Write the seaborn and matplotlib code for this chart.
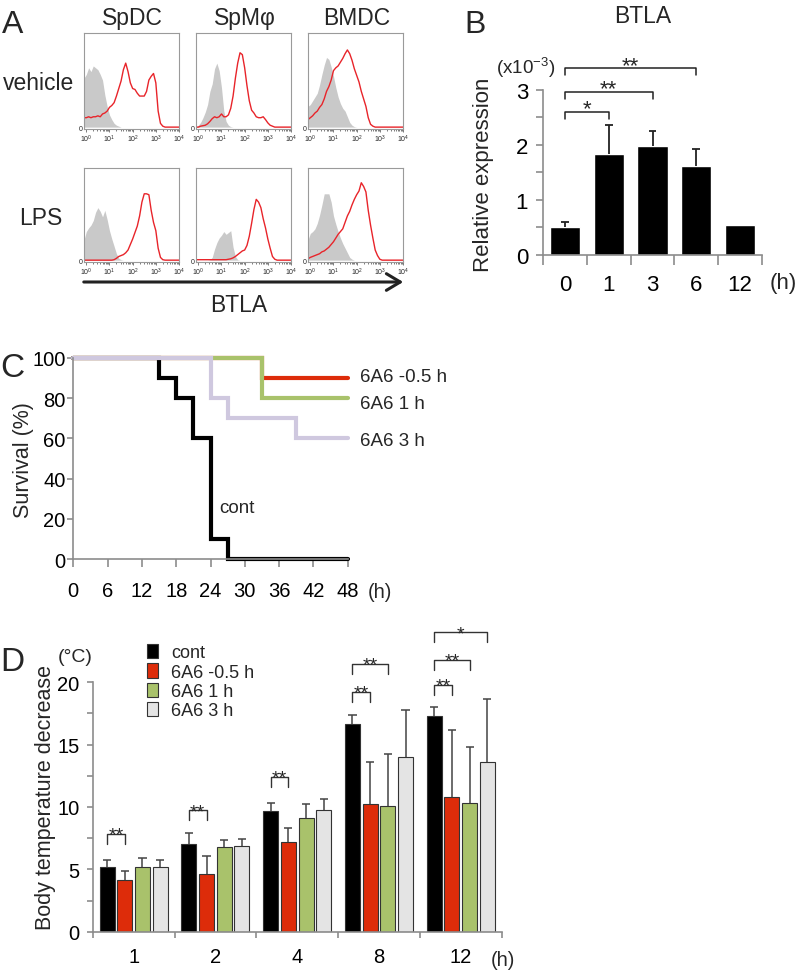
import numpy as np
import pandas as pd
import matplotlib
matplotlib.use('Agg')
import matplotlib.pyplot as plt
import seaborn as sns
from matplotlib import font_manager
from matplotlib.patches import Patch, FancyArrowPatch

sns.set_style('ticks')
_names = {f.name for f in font_manager.fontManager.ttflist}
NARROW = 'Liberation Sans Narrow' if 'Liberation Sans Narrow' in _names else 'Liberation Sans'
NSIZE = 14 if NARROW == 'Liberation Sans Narrow' else 12.5
plt.rcParams['font.family'] = ['Liberation Sans', 'DejaVu Sans']
plt.rcParams['mathtext.fontset'] = 'custom'
plt.rcParams['mathtext.rm'] = 'Liberation Sans'

# %%
# ---------------- data ----------------
# A: flow histograms, % of max, on a log10 grid
hist_x = [-0.1, 0.0, 0.1, 0.2, 0.3, 0.4, 0.5, 0.6, 0.7, 0.8, 0.9, 1.0, 1.1, 1.2,
          1.3, 1.4, 1.5, 1.6, 1.7, 1.8, 1.9, 2.0, 2.1, 2.2, 2.3, 2.4, 2.5, 2.6, 2.7,
          2.8, 2.9, 3.0, 3.1, 3.2, 3.3, 3.4, 3.5, 3.6, 3.7, 3.8, 3.9, 4.0]
cell_types = ['SpDC', 'SpM\u03c6', 'BMDC']
treatments = ['vehicle', 'LPS']

spdc_veh_iso = [52, 56, 63, 59, 65, 63, 61, 56, 50, 34, 22, 13, 8, 4, 2, 1,
                0, 0, 0, 0, 0, 0, 0, 0, 0, 0, 0, 0, 0, 0, 0, 0, 0, 0, 0, 0, 0, 0, 0, 0, 0, 0]
spdc_veh_btla = [10, 10, 11, 10, 11, 11, 12, 11, 14, 15, 17, 21, 23, 26, 33, 41, 49, 61, 68, 59,
                 47, 41, 40, 36, 33, 33, 33, 38, 50, 54, 57, 47, 17, 4, 1, 0, 0, 0, 0, 0, 0, 0]
spm_veh_iso = [0, 2, 5, 10, 16, 24, 38, 46, 62, 68, 60, 42, 17, 6, 2, 0.5,
               0, 0, 0, 0, 0, 0, 0, 0, 0, 0, 0, 0, 0, 0, 0, 0, 0, 0, 0, 0, 0, 0, 0, 0, 0, 0]
spm_veh_btla = [0, 0, 1, 1.5, 2, 3.5, 6, 9, 11, 10, 11, 14, 11, 11, 13, 20, 33, 52, 68, 79,
                77, 63, 44, 28, 18, 15, 11, 10, 10, 11, 8, 4.5, 2, 1, 0, 0, 0, 0, 0, 0, 0, 0]
bmdc_veh_iso = [22, 24, 28, 32, 36, 45, 56, 66, 74, 72, 64, 54, 42, 32, 25, 20, 17, 11, 5, 2,
                0.5, 0, 0, 0, 0, 0, 0, 0, 0, 0, 0, 0, 0, 0, 0, 0, 0, 0, 0, 0, 0, 0]
bmdc_veh_btla = [8, 10, 12, 15, 17, 21, 24, 30, 38, 43, 50, 60, 63, 65, 69, 73, 78, 82, 78, 71,
                 62, 55, 48, 38, 30, 22, 10, 3, 1, 0, 0, 0, 0, 0, 0, 0, 0, 0, 0, 0, 0, 0]
spdc_lps_iso = [22, 31, 35, 38, 43, 52, 57, 53, 47, 54, 44, 32, 23, 15, 7, 2, 0.5,
                0, 0, 0, 0, 0, 0, 0, 0, 0, 0, 0, 0, 0, 0, 0, 0, 0, 0, 0, 0, 0, 0, 0, 0, 0]
spdc_lps_btla = [0, 0, 0, 0, 0, 0, 0, 0, 0, 0, 0, 0, 0, 0.5, 2, 4, 5, 6, 8, 11,
                 17, 23, 30, 37, 48, 63, 72, 72, 71, 54, 41, 32, 13, 3, 0.5, 0, 0, 0, 0, 0, 0, 0]
spm_lps_iso = [0, 0, 0, 0, 0, 0, 0.5, 3, 12, 19, 24, 27, 31, 28, 30, 32, 14, 4, 0.5,
               0, 0, 0, 0, 0, 0, 0, 0, 0, 0, 0, 0, 0, 0, 0, 0, 0, 0, 0, 0, 0, 0, 0]
spm_lps_btla = [0.5, 0.5, 0.5, 0.5, 0.5, 0.5, 0.5, 0.5, 0.5, 0.5, 0.5, 0.5, 0.5, 0.5, 1, 1.5, 2.5, 4, 6, 8,
                10, 11, 16, 26, 40, 55, 66, 63, 57, 45, 35, 23, 13, 4, 1, 0, 0, 0, 0, 0, 0, 0]
bmdc_lps_iso = [22, 29, 31, 34, 40, 49, 60, 72, 72, 72, 63, 48, 39, 31, 24, 18, 13, 8, 3, 1,
                0, 0, 0, 0, 0, 0, 0, 0, 0, 0, 0, 0, 0, 0, 0, 0, 0, 0, 0, 0, 0, 0]
bmdc_lps_btla = [1.5, 3, 4, 5, 6, 7, 9, 10, 12, 14, 17, 20, 24, 28, 31, 34, 41, 48, 53, 60,
                 66, 71, 75, 84, 80, 74, 54, 38, 24, 11, 5, 1, 0, 0, 0, 0, 0, 0, 0, 0, 0, 0]
# events piled up in the lowest channel
edge_peak = [95, 0, 65, 0, 0, 0]

# B: BTLA relative expression (x10^-3)
b_times = ['0', '1', '3', '6', '12']
b_mean = [0.50, 1.84, 1.97, 1.61, 0.55]
b_err = [0.10, 0.52, 0.28, 0.31, 0.0]
b_sig_to = ['1', '3', '6']
b_sig_y = [2.60, 2.96, 3.39]
b_sig_lab = ['*', '**', '**']

# C: survival (%)
cont_time = [0, 15, 18, 21, 24, 27, 48]
cont_surv = [100, 90, 80, 60, 10, 0, 0]
early_time = [0, 33, 48]
early_surv = [100, 90, 90]
h1_time = [0, 33, 48]
h1_surv = [100, 80, 80]
h3_time = [0, 24, 27, 39, 48]
h3_surv = [100, 80, 70, 60, 60]

# D: body temperature decrease
d_times = ['1', '2', '4', '8', '12']
d_groups = ['cont', '6A6 -0.5 h', '6A6 1 h', '6A6 3 h']
d_cont = [5.19, 7.06, 9.71, 16.66, 17.33]
d_cont_err = [0.59, 0.88, 0.61, 0.75, 0.72]
d_early = [4.12, 4.65, 7.17, 10.27, 10.83]
d_early_err = [0.77, 1.39, 1.12, 3.31, 5.37]
d_1h = [5.16, 6.76, 9.12, 10.05, 10.32]
d_1h_err = [0.72, 0.57, 1.12, 4.17, 4.52]
d_3h = [5.16, 6.87, 9.79, 14.01, 13.58]
d_3h_err = [0.62, 0.54, 0.85, 3.80, 5.08]
d_sig_time = ['1', '2', '4', '8', '8', '12', '12', '12']
d_sig_to = ['6A6 -0.5 h', '6A6 -0.5 h', '6A6 -0.5 h', '6A6 -0.5 h', '6A6 1 h',
            '6A6 -0.5 h', '6A6 1 h', '6A6 3 h']
d_sig_y = [7.83, 9.73, 12.38, 19.2, 21.47, 19.79, 21.79, 24.0]
d_sig_lab = ['**', '**', '**', '**', '**', '**', '**', '*']

# colours
RED = '#dd2c0a'
GREEN = '#a9c26b'
LAV = '#cfc8df'
LGREY = '#e4e4e4'
AXC = '#8c8c8c'

# %%
W, H = 799, 978
fig = plt.figure(figsize=(W / 100, H / 100), dpi=100)


def px_axes(l, t, r, b):
    return fig.add_axes([l / W, 1 - b / H, (r - l) / W, (b - t) / H])


def ftext(x, y, s, **kw):
    fig.text(x / W, 1 - y / H, s, **kw)


def style_axes(ax):
    for s in ['top', 'right']:
        ax.spines[s].set_visible(False)
    for s in ['left', 'bottom']:
        ax.spines[s].set_color(AXC)
        ax.spines[s].set_linewidth(1.2)
    ax.tick_params(which='both', color=AXC, width=1.2, direction='out', labelcolor='black')


# ---------------- A ----------------
hist_iso = [spdc_veh_iso, spm_veh_iso, bmdc_veh_iso, spdc_lps_iso, spm_lps_iso, bmdc_lps_iso]
hist_btla = [spdc_veh_btla, spm_veh_btla, bmdc_veh_btla, spdc_lps_btla, spm_lps_btla, bmdc_lps_btla]
rows = [(34, 130), (169, 263)]
cols = [(84, 179), (196, 291), (308, 403)]
minor_x = [d + np.log10(k) for d in range(4) for k in range(2, 10)]
for i in range(6):
    r, c = divmod(i, 3)
    ax = px_axes(cols[c][0], rows[r][0], cols[c][1], rows[r][1])
    ax.fill_between(hist_x, hist_iso[i], color='#c9c9c9', lw=0)
    sns.lineplot(x=hist_x, y=hist_btla[i], color='#e8242a', lw=1.0, ax=ax)
    if edge_peak[i]:
        ax.vlines(hist_x[0], 0, edge_peak[i], color='#e8242a', lw=1.4)
    ax.set_xlim(-0.1, 4.0)
    ax.set_ylim(-2, 100)
    ax.set_xticks(range(5))
    ax.set_xticklabels([r'$\mathregular{10^{%d}}$' % k for k in range(5)], fontsize=5)
    ax.set_xticks(minor_x, minor=True)
    ax.set_yticks([0])
    ax.set_yticklabels(['0'], fontsize=5)
    for s in ax.spines.values():
        s.set_color('#9a9a9a')
        s.set_linewidth(0.8)
    ax.tick_params(which='both', direction='out', color='#666666', width=0.6, pad=1)
    ax.tick_params(which='major', length=2)
    ax.tick_params(which='minor', length=1.2)
    ax.tick_params(axis='y', length=0)
    ax.set_xlabel('')
    ax.set_ylabel('')

for (l, rr), name in zip(cols, cell_types):
    ftext((l + rr) / 2 + 1, 25, name, fontsize=16.5, ha='center', va='baseline')
ftext(39, 90, 'vehicle', fontsize=16.5, ha='center', va='baseline')
ftext(41, 225, 'LPS', fontsize=16.5, ha='center', va='baseline')
ftext(239, 312, 'BTLA', fontsize=16.5, ha='center', va='baseline')
ftext(13, 33, 'A', fontsize=23, ha='center', va='baseline')
arrow = FancyArrowPatch((81 / W, 1 - 283 / H), (406 / W, 1 - 283 / H), transform=fig.transFigure,
                        arrowstyle='->,head_length=0.5,head_width=0.3', mutation_scale=20,
                        lw=2.2, color='#222222')
fig.add_artist(arrow)

# ---------------- B ----------------
axb = px_axes(543.3, 90.7, 761.7, 256)
b_df = pd.DataFrame({'time': b_times, 'expr': b_mean})
sns.barplot(data=b_df, x='time', y='expr', order=b_times, color='black', saturation=1,
            width=0.69, errorbar=None, ax=axb)
b_x = [p.get_x() + p.get_width() / 2 for p in axb.patches]
for x, m, e in zip(b_x, b_mean, b_err):
    if e > 0:
        axb.vlines(x, m, m + e, color='#222222', lw=1.3)
        axb.hlines(m + e, x - 0.09, x + 0.09, color='#222222', lw=1.3)
for to, y, lab in zip(b_sig_to, b_sig_y, b_sig_lab):
    x0 = b_x[0]
    x1 = b_x[b_times.index(to)]
    axb.plot([x0, x0, x1, x1], [y - 0.13, y, y, y - 0.13], color='#222222', lw=1.1, clip_on=False)
    axb.text((x0 + x1) / 2, y - 0.045, lab, fontsize=16, ha='center', va='baseline')
axb.set_xlim(-0.5, 4.5)
axb.set_ylim(0, 3)
style_axes(axb)
axb.set_yticks([0, 1, 2, 3])
axb.set_yticks([0.5, 1.5, 2.5], minor=True)
axb.set_xticks([-0.5, 0.5, 1.5, 2.5, 3.5, 4.5], minor=True)
axb.tick_params(axis='y', which='both', length=5, labelsize=16, pad=6)
axb.tick_params(axis='x', which='major', length=0, labelsize=16, pad=14)
axb.tick_params(axis='x', which='minor', length=7)
axb.set_xlabel('')
axb.set_ylabel('')
ftext(483, 175, 'Relative expression', fontsize=16, rotation=90, ha='center', va='center')
ftext(496, 68, r'(x10$^{\mathregular{-3}}$)', fontsize=13.5, ha='left', va='center')
ftext(783, 284, '(h)', fontsize=16, ha='center', va='center')
ftext(642.7, 23.3, 'BTLA', fontsize=16.5, ha='center', va='baseline')
ftext(475, 33.3, 'B', fontsize=23, ha='center', va='baseline')

# ---------------- C ----------------
axc = px_axes(73.3, 359, 347.7, 560)
c_order = ['6A6 -0.5 h', '6A6 1 h', 'cont', '6A6 3 h']
c_colors = {'cont': 'black', '6A6 -0.5 h': RED, '6A6 1 h': GREEN, '6A6 3 h': LAV}
c_df = pd.concat([
    pd.DataFrame({'group': 'cont', 'time': cont_time, 'surv': cont_surv}),
    pd.DataFrame({'group': '6A6 -0.5 h', 'time': early_time, 'surv': early_surv}),
    pd.DataFrame({'group': '6A6 1 h', 'time': h1_time, 'surv': h1_surv}),
    pd.DataFrame({'group': '6A6 3 h', 'time': h3_time, 'surv': h3_surv}),
])
sns.lineplot(data=c_df, x='time', y='surv', hue='group', hue_order=c_order, palette=c_colors,
             estimator=None, sort=False, drawstyle='steps-post', lw=3, legend=False,
             ax=axc, clip_on=False, solid_joinstyle='miter')
axc.set_xlim(0, 48)
axc.set_ylim(0, 100)
style_axes(axc)
axc.set_xticks(range(0, 49, 6))
axc.set_yticks(range(0, 101, 20))
axc.tick_params(axis='x', length=6, pad=10)
axc.tick_params(axis='y', length=4, pad=1.5)
for lab in axc.get_xticklabels() + axc.get_yticklabels():
    lab.set_fontfamily(NARROW)
    lab.set_fontsize(NSIZE + 2)
axc.set_xlabel('')
axc.set_ylabel('')
for lab, y in zip(['6A6 -0.5 h', '6A6 1 h', '6A6 3 h'], [91.7, 78.5, 60]):
    axc.text(50.2, y, lab, fontsize=NSIZE + 1, family=NARROW, ha='left', va='center_baseline',
             clip_on=False)
axc.text(25.6, 26.5, 'cont', fontsize=NSIZE + 1, family=NARROW, ha='left', va='center_baseline')
ftext(380, 593, '(h)', fontsize=NSIZE + 2, family=NARROW, ha='center', va='center')
ftext(24, 460, 'Survival (%)', fontsize=15.5, rotation=90, ha='center', va='center')
ftext(12, 377, 'C', fontsize=24, family=NARROW, ha='center', va='baseline')

# ---------------- D ----------------
axd = px_axes(92.7, 683.3, 501.7, 932.7)
d_colors = dict(zip(d_groups, ['black', RED, GREEN, LGREY]))
d_vals = [d_cont, d_early, d_1h, d_3h]
d_errs = [d_cont_err, d_early_err, d_1h_err, d_3h_err]
d_df = pd.concat([pd.DataFrame({'time': d_times, 'group': g, 'temp': v})
                  for g, v in zip(d_groups, d_vals)])
sns.barplot(data=d_df, x='time', y='temp', hue='group', order=d_times, hue_order=d_groups,
            palette=d_colors, saturation=1, width=0.865, gap=0.15, errorbar=None,
            edgecolor='#333333', linewidth=0.8, legend=False, ax=axd)
d_x = {}
for g, cont in zip(d_groups, axd.containers):
    d_x[g] = [p.get_x() + p.get_width() / 2 for p in cont]
for g, vals, errs in zip(d_groups, d_vals, d_errs):
    for x, m, e in zip(d_x[g], vals, errs):
        axd.vlines(x, m, m + e, color='#444444', lw=1.1)
        axd.hlines(m + e, x - 0.05, x + 0.05, color='#444444', lw=1.1)
for t, to, y, lab in zip(d_sig_time, d_sig_to, d_sig_y, d_sig_lab):
    k = d_times.index(t)
    x0 = d_x['cont'][k]
    x1 = d_x[to][k]
    axd.plot([x0, x0, x1, x1], [y - 0.8, y, y, y - 0.8], color='#333333', lw=1.0, clip_on=False)
    axd.text((x0 + x1) / 2, y - 0.45, lab, fontsize=14, ha='center', va='baseline')
axd.set_xlim(-0.5, 4.5)
axd.set_ylim(0, 20)
style_axes(axd)
axd.set_yticks(range(0, 21, 5))
axd.set_yticks([2.5, 7.5, 12.5, 17.5], minor=True)
axd.set_xticks([-0.5, 0.5, 1.5, 2.5, 3.5, 4.5], minor=True)
axd.tick_params(axis='y', which='both', length=4.5, pad=5)
axd.tick_params(axis='x', which='major', length=0, pad=11)
axd.tick_params(axis='x', which='minor', length=4.5)
for lab in axd.get_xticklabels() + axd.get_yticklabels():
    lab.set_fontfamily(NARROW)
    lab.set_fontsize(NSIZE + 2)
axd.set_xlabel('')
axd.set_ylabel('')
handles = [Patch(facecolor=d_colors[g], edgecolor='#333333', lw=0.8) for g in d_groups]
fig.legend(handles, d_groups, loc='upper left', bbox_to_anchor=(147 / W, 1 - 645 / H),
           frameon=False, borderpad=0, borderaxespad=0, handlelength=0.6, handleheight=0.85,
           handletextpad=0.75, labelspacing=0.1, prop={'family': NARROW, 'size': NSIZE + 0.5})
ftext(503, 961, '(h)', fontsize=NSIZE + 2, family=NARROW, ha='center', va='center')
ftext(75, 658, '(\u00b0C)', fontsize=NSIZE + 1.5, family=NARROW, ha='center', va='center')
ftext(46, 797, 'Body temperature decrease', fontsize=15.5, rotation=90, ha='center', va='center')
ftext(12, 671, 'D', fontsize=24, family=NARROW, ha='center', va='baseline')

fig.savefig('out.png', dpi=100)
